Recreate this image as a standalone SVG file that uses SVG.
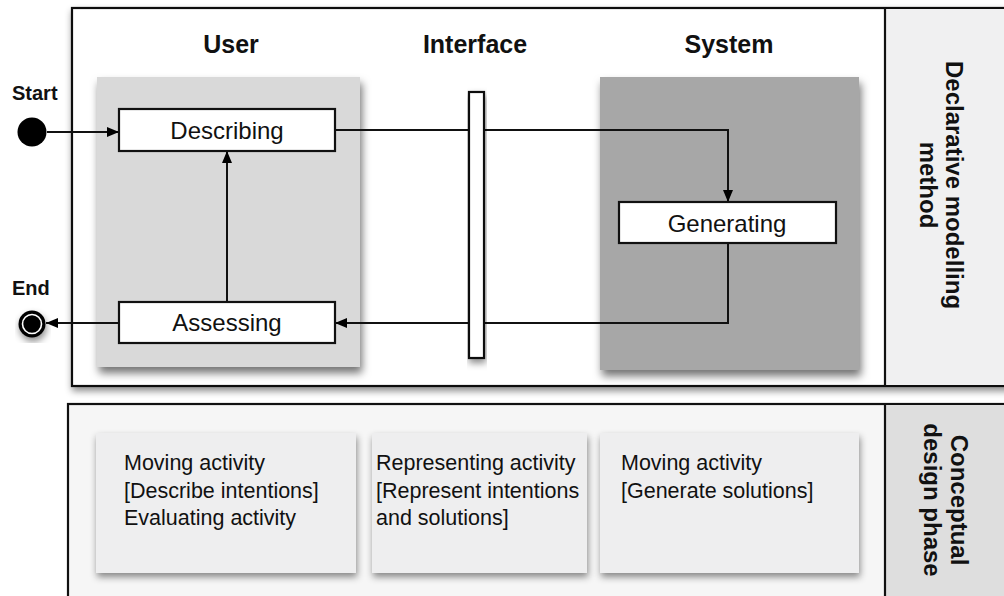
<svg xmlns="http://www.w3.org/2000/svg" width="1004" height="596" viewBox="0 0 1004 596">
<defs>
<filter id="sh" x="-10%" y="-10%" width="130%" height="130%">
<feDropShadow dx="2" dy="6" stdDeviation="4" flood-color="#000" flood-opacity="0.55"/>
</filter>
<filter id="sh2" x="-10%" y="-10%" width="130%" height="130%">
<feDropShadow dx="1" dy="4" stdDeviation="3.5" flood-color="#000" flood-opacity="0.45"/>
</filter>
<marker id="ah" viewBox="0 0 12 10" refX="12" refY="5" markerWidth="12" markerHeight="10" markerUnits="userSpaceOnUse" orient="auto">
<path d="M0,0 L12,5 L0,10 Z" fill="#000"/>
</marker>
<style>
text{font-family:"Liberation Sans",Arial,Helvetica,sans-serif;fill:#111}
.hd{font-size:25px;font-weight:bold;text-anchor:middle}
.vt{font-size:24px;font-weight:bold;text-anchor:middle}
.lb{font-size:20px;font-weight:bold}
.nt{font-size:24px;text-anchor:middle}
.ct{font-size:21.5px}
.frame{stroke:#111;stroke-width:2.2}
.node{fill:#fff;stroke:#111;stroke-width:2.2}
.conn{fill:none;stroke:#111;stroke-width:2;marker-end:url(#ah)}
.card{fill:#eeeeef;filter:url(#sh2)}
</style>
</defs>
<rect width="1004" height="596" fill="#fff"/>

<g id="frame-top">
<rect x="72" y="8" width="945" height="378" fill="#fff" class="frame" filter="url(#sh2)"/>
<rect x="885" y="9" width="125" height="376" fill="#f0f0f1"/>
<line x1="885" y1="8" x2="885" y2="386" class="frame"/>
<text class="vt" transform="translate(946,185) rotate(90)">Declarative modelling</text>
<text class="vt" transform="translate(920,185) rotate(90)">method</text>
</g>

<g id="frame-bottom">
<rect x="68" y="404" width="950" height="200" fill="#f6f6f6" class="frame"/>
<rect x="886" y="405" width="125" height="195" fill="#dedede"/>
<line x1="885" y1="404" x2="885" y2="596" class="frame"/>
<text class="vt" transform="translate(951,500) rotate(90)">Conceptual</text>
<text class="vt" transform="translate(924,500) rotate(90)">design phase</text>
</g>

<g id="lane-user">
<rect x="97" y="77" width="263" height="290" fill="#d9d9d9" filter="url(#sh)"/>
<text class="hd" x="231" y="53">User</text>
</g>
<g id="lane-interface">
<text class="hd" x="475" y="53">Interface</text>
</g>
<g id="lane-system">
<rect x="600" y="77" width="259" height="293" fill="#a7a7a7" filter="url(#sh)"/>
<text class="hd" x="729" y="53">System</text>
</g>

<g id="connectors">
<line x1="47" y1="132" x2="119" y2="132" class="conn"/>
<polyline points="335,130 728,130 728,202" class="conn"/>
<polyline points="728,243 728,323 335,323" class="conn"/>
<line x1="227" y1="302" x2="227" y2="151" class="conn"/>
<line x1="119" y1="323" x2="46" y2="323" class="conn"/>
</g>

<g id="interface-bar">
<rect x="469" y="92" width="15" height="266" class="node" filter="url(#sh2)"/>
</g>

<g id="start">
<text class="lb" x="12" y="100">Start</text>
<circle cx="32" cy="132" r="14.5" fill="#000"/>
</g>
<g id="end">
<text class="lb" x="12" y="295">End</text>
<circle cx="32" cy="324" r="13.5" fill="#000" filter="url(#sh2)"/>
<circle cx="32" cy="324" r="9.5" fill="none" stroke="#fff" stroke-width="1.6"/>
</g>

<g id="describing">
<rect x="119" y="109" width="216" height="42" class="node"/>
<text class="nt" x="227" y="139">Describing</text>
</g>
<g id="assessing">
<rect x="119" y="302" width="216" height="41" class="node"/>
<text class="nt" x="227" y="331">Assessing</text>
</g>
<g id="generating">
<rect x="619" y="202" width="217" height="41" class="node"/>
<text class="nt" x="727" y="232">Generating</text>
</g>

<g id="card-user">
<rect x="96" y="433" width="260" height="140" class="card"/>
<text class="ct" x="124" y="470">Moving activity</text>
<text class="ct" x="124" y="497.5">[Describe intentions]</text>
<text class="ct" x="124" y="525">Evaluating activity</text>
</g>
<g id="card-interface">
<rect x="372" y="433" width="215" height="140" class="card"/>
<text class="ct" x="376" y="470">Representing activity</text>
<text class="ct" x="376" y="497.5">[Represent intentions</text>
<text class="ct" x="376" y="525">and solutions]</text>
</g>
<g id="card-system">
<rect x="600" y="433" width="259" height="140" class="card"/>
<text class="ct" x="621" y="470">Moving activity</text>
<text class="ct" x="621" y="497.5">[Generate solutions]</text>
</g>
</svg>
